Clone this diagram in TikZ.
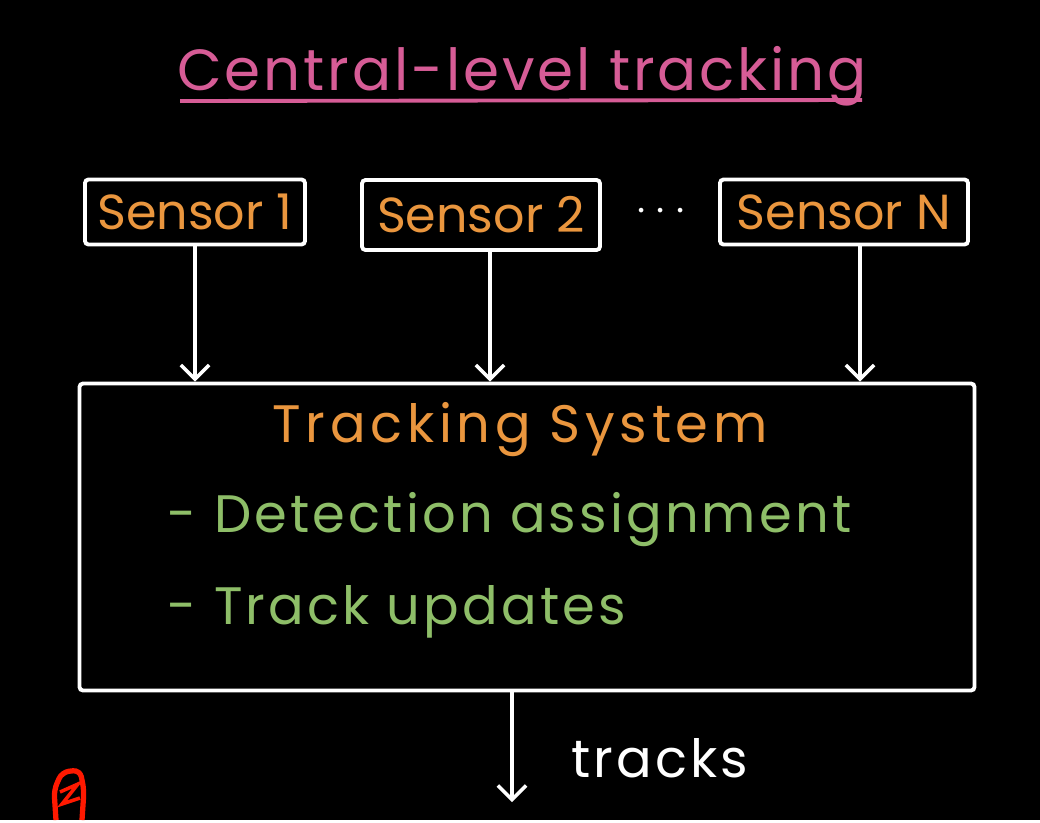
\documentclass[tikz,border=0pt]{standalone}
\usepackage{fontspec}
\setmainfont{Poppins}
\usepackage{tikz}
\usetikzlibrary{arrows.meta,positioning}

\definecolor{chalkpink}{RGB}{214,92,150}
\definecolor{chalkorange}{RGB}{234,150,62}
\definecolor{chalkgreen}{RGB}{142,190,104}

\begin{document}
\begin{tikzpicture}[
            x = 0.02cm, y = -0.02cm, % one unit per pixel
            > = {Straight Barb[length=8pt,width=16pt,line width=2pt]}, % open arrow head
            line width = 2.2pt,
            draw = white,
            sensor/.style = {draw = white, rounded corners = 2pt, inner sep = 0pt,
                             text = chalkorange,
                             font = \fontsize{28}{30}\selectfont},
            system/.style = {draw = white, rounded corners = 2pt, inner sep = 0pt},
            heading/.style = {text = chalkorange, font = \fontsize{30}{32}\selectfont\addfontfeature{LetterSpace=9}},
            item/.style = {text = chalkgreen, font = \fontsize{30}{32}\selectfont\addfontfeature{LetterSpace=6}, anchor = west},
            label/.style = {text = white, font = \fontsize{30}{32}\selectfont\addfontfeature{LetterSpace=6}}
        ]

	% background
	\fill[black] (0,0) rectangle (1040,820);

	\node[text = chalkpink, font = \fontsize{33}{35}\selectfont\addfontfeature{LetterSpace=5}] (title) at (522,76) {Central-level tracking};
	\draw[chalkpink] (180,101) -- (862,100);

	\node[sensor, minimum width = 220*0.02cm, minimum height = 65*0.02cm] (s1) at (195,212) {Sensor 1};
	\node[sensor, minimum width = 238*0.02cm, minimum height = 70*0.02cm] (s2) at (481,215) {Sensor 2};
	\node[sensor, minimum width = 248*0.02cm, minimum height = 65*0.02cm] (sN) at (844,212) {Sensor N};
	\node[text = white, font = \fontsize{40}{42}\selectfont] (dots) at (661,212) {$\cdots$};

	\node[system, minimum width = 895*0.02cm, minimum height = 307*0.02cm] (sys) at (527,537) {};
	\node[heading] (name) at (520,430) {Tracking System};
	\node[item] (assign) at (160,520) {- Detection assignment};
	\node[item] (update) at (160,612) {- Track updates};

	\draw[->, white] (s1.south) -- (s1.south |- sys.north);
	\draw[->, white] ([xshift=9*0.02cm]s2.south) -- ([xshift=9*0.02cm]s2.south |- sys.north);
	\draw[->, white] ([xshift=16*0.02cm]sN.south) -- ([xshift=16*0.02cm]sN.south |- sys.north);

	\coordinate (out) at (512,802);
	\draw[->, white] (out |- sys.south) -- (out);
	\node[label] (tracks) at (660,758) {tracks};

	% red pen mark in the corner
	\draw[red!80!orange, line width = 3pt, rounded corners = 4pt]
		(56,820) -- (54,790) -- (62,772) -- (80,770) -- (84,790) -- (82,820);
	\draw[red!80!orange, line width = 2pt] (60,792) -- (78,784) -- (62,804) -- (80,798);

\end{tikzpicture}
\end{document}
